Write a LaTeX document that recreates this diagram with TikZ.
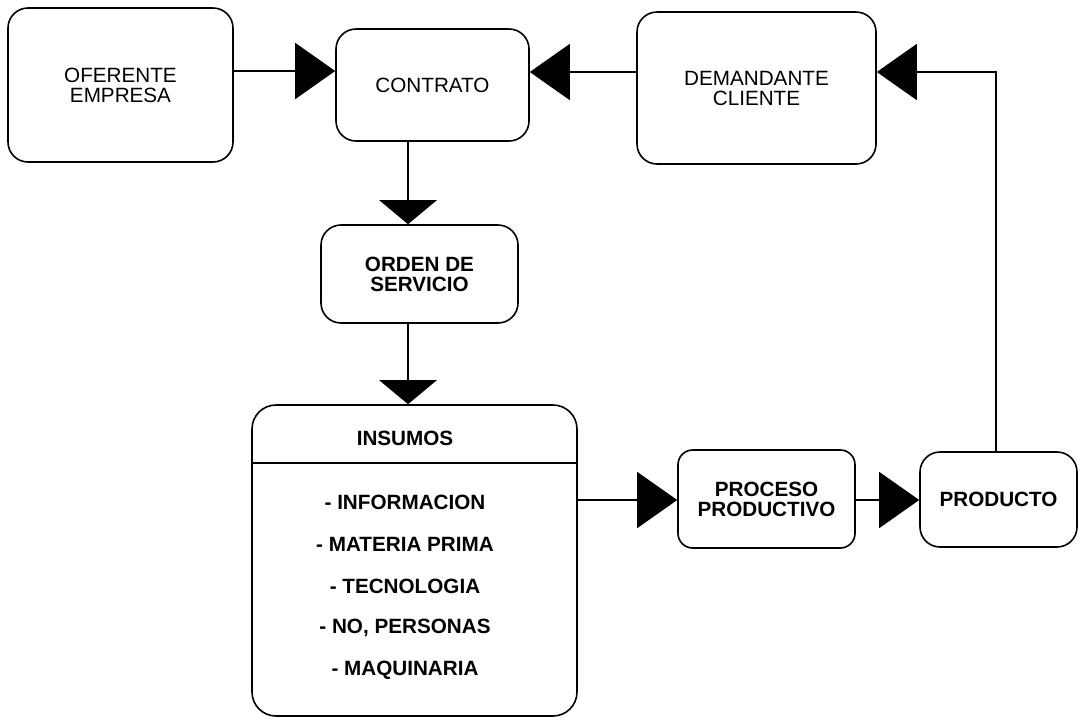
\documentclass[tikz,border=0pt]{standalone}
\usepackage{fontspec}
\setmainfont{Liberation Sans}
\usetikzlibrary{arrows.meta,positioning,calc}
\newcommand\rotulo{\fontsize{15.5}{15}\selectfont}
\tikzset{
  caja/.style={draw,line width=1.2pt,rounded corners=15pt,align=center,font=\rotulo,inner sep=0pt},
  cajachica/.style={caja,rounded corners=11pt},
  texto/.style={align=center,font=\rotulo\bfseries,inner sep=0pt},
  flecha/.style={-{Triangle[length=30pt,width=42pt]},line width=1.1pt},
  flechabaja/.style={-{Triangle[length=18pt,width=43pt]},line width=1.1pt}
}

\begin{document}
\begin{tikzpicture}[x=0.75pt,y=-0.75pt]
\useasboundingbox (0,0) rectangle (1081,719);
\node[caja,minimum width=168.75pt,minimum height=115.5pt] (ofe) at (120.5,85) {OFERENTE\\EMPRESA};
\node[caja,minimum width=144.75pt,minimum height=84pt] (con) at (432.5,85) {CONTRATO};
\node[caja,minimum width=179.25pt,minimum height=114pt] (dem) at (756.5,88) {DEMANDANTE\\CLIENTE};
\node[caja,minimum width=147.75pt,minimum height=73.5pt,font=\rotulo\bfseries] (ord) at (419.5,274) {ORDEN DE\\SERVICIO};
\node[caja,rounded corners=18pt,minimum width=243.75pt,minimum height=233.25pt] (ins) at (414.5,560.5) {};
\node[cajachica,minimum width=132.75pt,minimum height=73.5pt,font=\rotulo\bfseries] (pro) at (766.5,499) {PROCESO\\PRODUCTIVO};
\node[caja,minimum width=117.75pt,minimum height=71.25pt,font=\rotulo\bfseries] (prd) at (998.5,499.5) {PRODUCTO};

% contenido de insumos
\node[texto] (tit) at (405,438) {INSUMOS};
\draw[line width=1.1pt] (ins.west |- 0,463) -- (ins.east |- 0,463);
\foreach \item [count=\i from 0] in {INFORMACION,MATERIA PRIMA,TECNOLOGIA,{NO, PERSONAS},MAQUINARIA}
  \node[texto] (it\i) at (405,502+42*\i) {- \item};

\draw[flecha] (ofe.east |- 0,71) -- (con.west |- 0,71);
\draw[flecha] (dem.west |- 0,72) -- (con.east |- 0,72);
\draw[flecha] (prd.north -| 996,0) |- (dem.east |- 0,72);
\draw[flechabaja] (con.south -| 408,0) -- (ord.north -| 408,0);
\draw[flechabaja] (ord.south -| 408,0) -- (ins.north -| 408,0);
\draw[flecha] (ins.east |- 0,500) -- (pro.west |- 0,500);
\draw[flecha] (pro.east |- 0,500) -- (prd.west |- 0,500);
\end{tikzpicture}
\end{document}
